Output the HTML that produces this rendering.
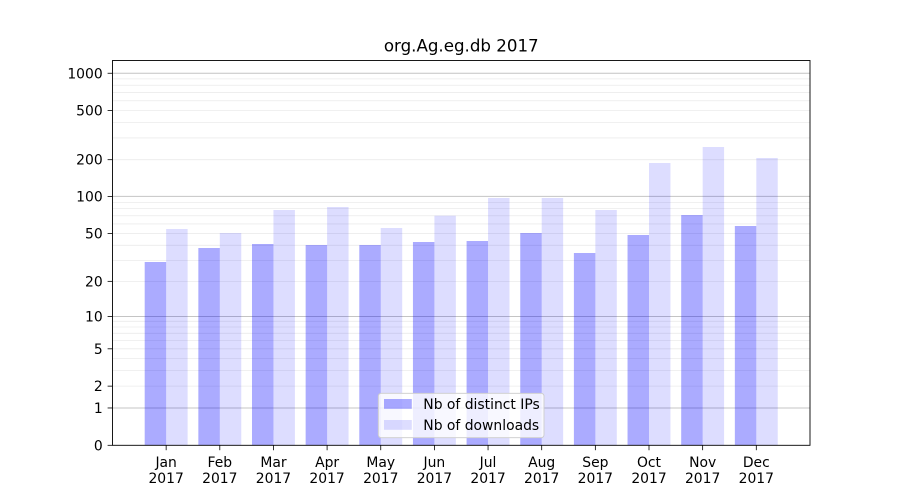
<!DOCTYPE html>
<html>
<head>
<meta charset="utf-8">
<style>
html,body{margin:0;padding:0;background:#fff;}
svg{display:block;}
text{font-family:"DejaVu Sans","Liberation Sans",sans-serif;fill:#000;}
</style>
</head>
<body>
<svg width="900" height="500" viewBox="0 0 900 500" xmlns="http://www.w3.org/2000/svg">
<rect x="0" y="0" width="900" height="500" fill="#fff"/>
<!-- minor grid -->
<g stroke="#ebebeb" stroke-width="0.8">
<line x1="112.5" x2="810" y1="386.14" y2="386.14"/>
<line x1="112.5" x2="810" y1="370.64" y2="370.64"/>
<line x1="112.5" x2="810" y1="358.63" y2="358.63"/>
<line x1="112.5" x2="810" y1="348.81" y2="348.81"/>
<line x1="112.5" x2="810" y1="340.51" y2="340.51"/>
<line x1="112.5" x2="810" y1="333.32" y2="333.32"/>
<line x1="112.5" x2="810" y1="326.97" y2="326.97"/>
<line x1="112.5" x2="810" y1="321.3" y2="321.3"/>
<line x1="112.5" x2="810" y1="281.34" y2="281.34"/>
<line x1="112.5" x2="810" y1="260.37" y2="260.37"/>
<line x1="112.5" x2="810" y1="245.32" y2="245.32"/>
<line x1="112.5" x2="810" y1="233.56" y2="233.56"/>
<line x1="112.5" x2="810" y1="223.92" y2="223.92"/>
<line x1="112.5" x2="810" y1="215.74" y2="215.74"/>
<line x1="112.5" x2="810" y1="208.65" y2="208.65"/>
<line x1="112.5" x2="810" y1="202.38" y2="202.38"/>
<line x1="112.5" x2="810" y1="159.7" y2="159.7"/>
<line x1="112.5" x2="810" y1="137.96" y2="137.96"/>
<line x1="112.5" x2="810" y1="122.51" y2="122.51"/>
<line x1="112.5" x2="810" y1="110.52" y2="110.52"/>
<line x1="112.5" x2="810" y1="100.72" y2="100.72"/>
<line x1="112.5" x2="810" y1="92.43" y2="92.43"/>
<line x1="112.5" x2="810" y1="85.25" y2="85.25"/>
<line x1="112.5" x2="810" y1="78.91" y2="78.91"/>
</g>
<!-- major grid -->
<g stroke="#c4c4c4" stroke-width="1">
<line x1="112.5" x2="810" y1="407.97" y2="407.97"/>
<line x1="112.5" x2="810" y1="316.5" y2="316.5"/>
<line x1="112.5" x2="810" y1="196.4" y2="196.4"/>
<line x1="112.5" x2="810" y1="73.25" y2="73.25"/>
</g>
<!-- bars: IPs -->
<g fill="#0000ff" fill-opacity="0.33">
<rect x="144.69" y="262" width="21.46" height="183.3"/>
<rect x="198.34" y="248" width="21.46" height="197.3"/>
<rect x="251.99" y="244" width="21.46" height="201.3"/>
<rect x="305.64" y="245" width="21.46" height="200.3"/>
<rect x="359.29" y="245" width="21.46" height="200.3"/>
<rect x="412.94" y="242" width="21.46" height="203.3"/>
<rect x="466.59" y="241" width="21.46" height="204.3"/>
<rect x="520.24" y="233" width="21.46" height="212.3"/>
<rect x="573.89" y="253" width="21.46" height="192.3"/>
<rect x="627.54" y="235" width="21.46" height="210.3"/>
<rect x="681.19" y="215" width="21.46" height="230.3"/>
<rect x="734.84" y="226" width="21.46" height="219.3"/>
</g>
<!-- bars: downloads -->
<g fill="#0000ff" fill-opacity="0.135">
<rect x="166.15" y="229" width="21.46" height="216.3"/>
<rect x="219.8" y="233" width="21.46" height="212.3"/>
<rect x="273.45" y="210" width="21.46" height="235.3"/>
<rect x="327.1" y="207" width="21.46" height="238.3"/>
<rect x="380.75" y="228" width="21.46" height="217.3"/>
<rect x="434.4" y="215.7" width="21.46" height="229.6"/>
<rect x="488.05" y="198" width="21.46" height="247.3"/>
<rect x="541.7" y="198" width="21.46" height="247.3"/>
<rect x="595.35" y="210" width="21.46" height="235.3"/>
<rect x="649.0" y="163" width="21.46" height="282.3"/>
<rect x="702.65" y="147" width="21.46" height="298.3"/>
<rect x="756.3" y="158" width="21.46" height="287.3"/>
</g>
<!-- spines -->
<rect x="112.5" y="60.5" width="697.5" height="384.8" fill="none" stroke="#000" stroke-width="0.9"/>
<!-- y ticks -->
<g stroke="#000" stroke-width="0.8">
<line x1="107.6" x2="112.5" y1="445.3" y2="445.3"/>
<line x1="107.6" x2="112.5" y1="407.97" y2="407.97"/>
<line x1="107.6" x2="112.5" y1="386.14" y2="386.14"/>
<line x1="107.6" x2="112.5" y1="348.81" y2="348.81"/>
<line x1="107.6" x2="112.5" y1="316.5" y2="316.5"/>
<line x1="107.6" x2="112.5" y1="281.34" y2="281.34"/>
<line x1="107.6" x2="112.5" y1="233.56" y2="233.56"/>
<line x1="107.6" x2="112.5" y1="196.4" y2="196.4"/>
<line x1="107.6" x2="112.5" y1="159.7" y2="159.7"/>
<line x1="107.6" x2="112.5" y1="110.52" y2="110.52"/>
<line x1="107.6" x2="112.5" y1="73.25" y2="73.25"/>
</g>
<g font-size="13.9" text-anchor="end">
<text x="102.7" y="450.3">0</text>
<text x="102.7" y="413">1</text>
<text x="102.7" y="391.1">2</text>
<text x="102.7" y="353.8">5</text>
<text x="102.7" y="321.5">10</text>
<text x="102.7" y="286.3">20</text>
<text x="102.7" y="238.6">50</text>
<text x="102.7" y="201.4">100</text>
<text x="102.7" y="164.7">200</text>
<text x="102.7" y="115.5">500</text>
<text x="102.7" y="78.3">1000</text>
</g>
<!-- x ticks -->
<g stroke="#000" stroke-width="0.8">
<line x1="166.15" x2="166.15" y1="445.3" y2="450.2"/>
<line x1="219.8" x2="219.8" y1="445.3" y2="450.2"/>
<line x1="273.45" x2="273.45" y1="445.3" y2="450.2"/>
<line x1="327.1" x2="327.1" y1="445.3" y2="450.2"/>
<line x1="380.75" x2="380.75" y1="445.3" y2="450.2"/>
<line x1="434.4" x2="434.4" y1="445.3" y2="450.2"/>
<line x1="488.05" x2="488.05" y1="445.3" y2="450.2"/>
<line x1="541.7" x2="541.7" y1="445.3" y2="450.2"/>
<line x1="595.35" x2="595.35" y1="445.3" y2="450.2"/>
<line x1="649.0" x2="649.0" y1="445.3" y2="450.2"/>
<line x1="702.65" x2="702.65" y1="445.3" y2="450.2"/>
<line x1="756.3" x2="756.3" y1="445.3" y2="450.2"/>
</g>
<g font-size="13.9" text-anchor="middle">
<text x="166.15" y="467">Jan</text><text x="166.15" y="483">2017</text>
<text x="219.8" y="467">Feb</text><text x="219.8" y="483">2017</text>
<text x="273.45" y="467">Mar</text><text x="273.45" y="483">2017</text>
<text x="327.1" y="467">Apr</text><text x="327.1" y="483">2017</text>
<text x="380.75" y="467">May</text><text x="380.75" y="483">2017</text>
<text x="434.4" y="467">Jun</text><text x="434.4" y="483">2017</text>
<text x="488.05" y="467">Jul</text><text x="488.05" y="483">2017</text>
<text x="541.7" y="467">Aug</text><text x="541.7" y="483">2017</text>
<text x="595.35" y="467">Sep</text><text x="595.35" y="483">2017</text>
<text x="649.0" y="467">Oct</text><text x="649.0" y="483">2017</text>
<text x="702.65" y="467">Nov</text><text x="702.65" y="483">2017</text>
<text x="756.3" y="467">Dec</text><text x="756.3" y="483">2017</text>
</g>
<!-- title -->
<text x="461.25" y="51.5" font-size="16.67" text-anchor="middle">org.Ag.eg.db 2017</text>
<!-- legend -->
<rect x="378.3" y="393.3" width="165.7" height="44.4" rx="2.8" ry="2.8" fill="#fff" fill-opacity="0.8" stroke="#cccccc" stroke-width="0.9"/>
<rect x="384" y="399" width="27.8" height="9.8" fill="#0000ff" fill-opacity="0.33"/>
<rect x="384" y="420" width="27.8" height="9.8" fill="#0000ff" fill-opacity="0.135"/>
<g font-size="13.9">
<text x="423.3" y="409">Nb of distinct IPs</text>
<text x="423.3" y="430">Nb of downloads</text>
</g>
</svg>
</body>
</html>
